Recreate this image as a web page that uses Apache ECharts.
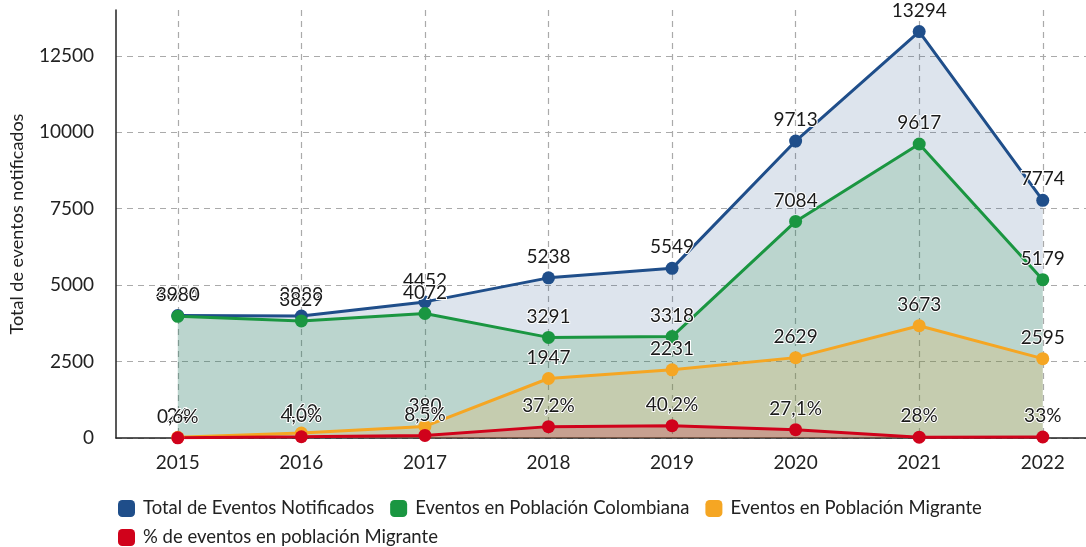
<!DOCTYPE html>
<html>
<head>
<meta charset="utf-8">
<script src="https://cdn.jsdelivr.net/npm/echarts@6/dist/echarts.min.js"></script>
<style>
  html, body { margin: 0; padding: 0; background: #fff; }
  #chart { width: 1086px; height: 547px; }
</style>
</head>
<body>
<div id="chart"></div>
<script>
var years = [2015, 2016, 2017, 2018, 2019, 2020, 2021, 2022];
var totalData = [4004, 3989, 4452, 5238, 5549, 9713, 13294, 7774];
var colombiaData = [3980, 3829, 4072, 3291, 3318, 7084, 9617, 5179];
var migranteData = [24, 160, 380, 1947, 2231, 2629, 3673, 2595];
// el porcentaje se dibuja sobre el mismo eje (tal como en el original)
var pctData = [6, 40, 85, 372, 402, 271, 28, 33];
var pctLabels = ['0,6%', '4,0%', '8,5%', '37,2%', '40,2%', '27,1%', '28%', '33%'];

var font = 'Lato';
var names = ['Total de Eventos Notificados', 'Eventos en Población Colombiana',
  'Eventos en Población Migrante', '% de eventos en población Migrante'];

function pairs(arr) {
  return years.map(function (y, i) { return [y, arr[i]]; });
}

function makeSeries(name, color, fill, data, formatter) {
  return {
    name: name,
    type: 'line',
    data: pairs(data),
    symbol: 'circle',
    symbolSize: 13,
    lineStyle: { color: color, width: 3 },
    itemStyle: { color: color },
    areaStyle: { color: fill },
    label: {
      show: true,
      position: 'top',
      distance: 5,
      fontFamily: font,
      fontSize: 19,
      color: '#1a1a1a',
      textBorderColor: '#fff',
      textBorderWidth: 2,
      formatter: formatter || function (p) { return p.value[1]; }
    },
    emphasis: { disabled: true },
    animation: false
  };
}

var legendBase = {
  left: 113,
  itemWidth: 17,
  itemHeight: 17,
  itemGap: 16,
  icon: 'roundRect',
  selectedMode: false,
  textStyle: { fontFamily: font, fontSize: 18.5, color: '#222', padding: [0, 0, 0, 3] }
};

var chart = echarts.init(document.getElementById('chart'));
chart.setOption({
  backgroundColor: '#fff',
  textStyle: { fontFamily: font },
  grid: { left: 114, right: 0, top: 10, bottom: 109 },
  legend: [
    Object.assign({}, legendBase, { top: 494, data: names.slice(0, 3) }),
    Object.assign({}, legendBase, { top: 523, data: names.slice(3) })
  ],
  xAxis: {
    type: 'value',
    min: 2014.5,
    max: 2022.35,
    axisLine: { show: true, onZero: false, lineStyle: { color: '#222', width: 1.5 } },
    axisTick: { show: false, customValues: years },
    axisLabel: {
      customValues: years,
      margin: 15,
      fontFamily: font,
      fontSize: 19,
      color: '#222',
      formatter: function (v) { return String(v); }
    },
    splitLine: { show: true, lineStyle: { color: '#aaa', type: [6, 5], width: 1.2 } }
  },
  yAxis: {
    type: 'value',
    min: 0,
    max: 14000,
    interval: 2500,
    name: 'Total de eventos notificados',
    nameLocation: 'middle',
    nameGap: 90,
    nameTextStyle: { fontFamily: font, fontSize: 18, color: '#222' },
    axisLine: { show: true, lineStyle: { color: '#222', width: 1.5 } },
    axisTick: { show: false },
    axisLabel: {
      showMaxLabel: false,
      margin: 22,
      fontFamily: font,
      fontSize: 19,
      color: '#222',
      formatter: function (v) { return String(v); }
    },
    splitLine: { show: true, showMaxLine: false, lineStyle: { color: '#aaa', type: [6, 5], width: 1.2 } }
  },
  series: [
    makeSeries(names[0], '#1f4e8a', 'rgba(31,78,138,0.22)', totalData),
    makeSeries(names[1], '#1a9641', 'rgba(26,150,65,0.25)', colombiaData),
    makeSeries(names[2], '#f5a623', 'rgba(245,166,35,0.25)', migranteData),
    makeSeries(names[3], '#d0021b', 'rgba(208,2,27,0.3)', pctData,
      function (p) { return pctLabels[p.dataIndex]; })
  ]
});
</script>
</body>
</html>
